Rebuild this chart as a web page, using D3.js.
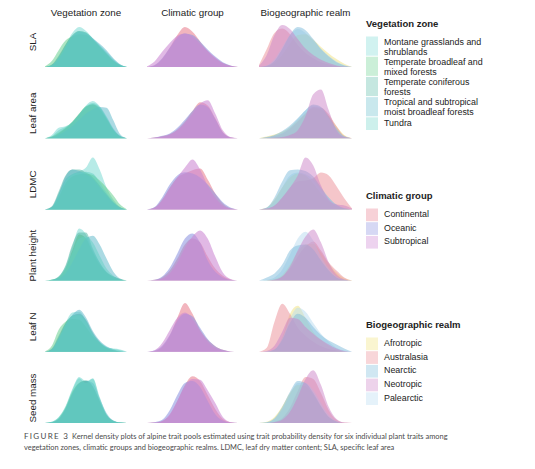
<!DOCTYPE html>
<html>
<head>
<meta charset="utf-8">
<script src="https://cdn.jsdelivr.net/npm/d3@7"></script>
<style>
  body { margin: 0; background: #fff; }
  svg text { font-family: "Liberation Sans", Arial, sans-serif; }
</style>
</head>
<body>
<div id="chart"></div>
<script>
// ---- chart data ----
var traits = ["SLA", "Leaf area", "LDMC", "Plant height", "Leaf N", "Seed mass"];
var groupings = ["Vegetation zone", "Climatic group", "Biogeographic realm"];

var vegZones = ["Montane grasslands and shrublands", "Temperate broadleaf and mixed forests",
  "Temperate coniferous forests", "Tropical and subtropical moist broadleaf forests", "Tundra"];
var climGroups = ["Continental", "Oceanic", "Subtropical"];
var bioRealms = ["Afrotropic", "Australasia", "Nearctic", "Neotropic", "Palearctic"];

// draw order for the realm layers (bottom -> top)
var bioOrder = ["Afrotropic", "Australasia", "Palearctic", "Nearctic", "Neotropic"];

// trait value grid (rescaled 0..12 across each panel)
var gridX = [0, 1, 2, 3, 4, 5, 6, 7, 8, 9, 10, 11, 12];

// densities, one row per group, same order as the group names
var slaVeg = [
  [0, 0.05, 0.25, 0.55, 0.85, 1.0, 0.9, 0.72, 0.55, 0.38, 0.2, 0.06, 0],
  [0.02, 0.15, 0.42, 0.66, 0.76, 0.82, 0.8, 0.68, 0.5, 0.32, 0.15, 0.04, 0],
  [0, 0.06, 0.28, 0.56, 0.8, 0.9, 0.86, 0.7, 0.52, 0.34, 0.16, 0.05, 0],
  [0, 0.04, 0.2, 0.48, 0.76, 0.88, 0.84, 0.72, 0.58, 0.42, 0.22, 0.07, 0],
  [0, 0.05, 0.24, 0.52, 0.78, 0.9, 0.86, 0.7, 0.53, 0.35, 0.17, 0.05, 0]
];
var slaClim = [
  [0, 0.04, 0.2, 0.48, 0.8, 1.0, 0.88, 0.64, 0.4, 0.22, 0.1, 0.03, 0],
  [0, 0.05, 0.22, 0.48, 0.74, 0.84, 0.8, 0.64, 0.44, 0.26, 0.12, 0.04, 0],
  [0.02, 0.14, 0.38, 0.6, 0.78, 0.84, 0.76, 0.58, 0.4, 0.24, 0.1, 0.03, 0]
];
var slaBio = [
  [0, 0.02, 0.1, 0.3, 0.58, 0.8, 0.82, 0.68, 0.5, 0.34, 0.2, 0.08, 0],
  [0.05, 0.45, 0.85, 0.96, 0.82, 0.55, 0.35, 0.22, 0.12, 0.06, 0.02, 0, 0],
  [0, 0.03, 0.15, 0.45, 0.8, 1.0, 0.92, 0.7, 0.45, 0.26, 0.12, 0.04, 0],
  [0.03, 0.3, 0.8, 1.05, 0.95, 0.7, 0.46, 0.3, 0.18, 0.1, 0.04, 0.01, 0],
  [0, 0.04, 0.2, 0.5, 0.8, 0.95, 0.85, 0.66, 0.45, 0.28, 0.14, 0.05, 0]
];
var leafAreaVeg = [
  [0, 0.08, 0.26, 0.3, 0.4, 0.6, 0.82, 0.93, 0.8, 0.55, 0.25, 0.06, 0],
  [0, 0.04, 0.14, 0.26, 0.42, 0.62, 0.8, 0.84, 0.72, 0.48, 0.2, 0.04, 0],
  [0, 0.03, 0.12, 0.24, 0.4, 0.6, 0.78, 0.85, 0.76, 0.5, 0.22, 0.05, 0],
  [0, 0.02, 0.08, 0.18, 0.3, 0.46, 0.62, 0.72, 0.78, 0.76, 0.45, 0.1, 0],
  [0, 0.05, 0.2, 0.28, 0.4, 0.6, 0.8, 0.88, 0.78, 0.52, 0.22, 0.05, 0]
];
var leafAreaClim = [
  [0, 0.02, 0.05, 0.1, 0.22, 0.42, 0.68, 0.9, 0.82, 0.5, 0.15, 0.02, 0],
  [0, 0.02, 0.06, 0.12, 0.26, 0.46, 0.68, 0.84, 0.78, 0.48, 0.14, 0.02, 0],
  [0, 0.01, 0.04, 0.09, 0.2, 0.38, 0.62, 0.86, 0.95, 0.62, 0.2, 0.03, 0]
];
var leafAreaBio = [
  [0, 0.04, 0.09, 0.16, 0.28, 0.45, 0.62, 0.75, 0.72, 0.55, 0.3, 0.08, 0],
  [0, 0.02, 0.06, 0.12, 0.24, 0.42, 0.62, 0.78, 0.76, 0.6, 0.3, 0.06, 0],
  [0, 0.03, 0.08, 0.18, 0.32, 0.5, 0.7, 0.84, 0.78, 0.55, 0.25, 0.05, 0],
  [0, 0, 0.01, 0.03, 0.08, 0.2, 0.55, 1.1, 1.22, 0.7, 0.2, 0.03, 0],
  [0, 0.02, 0.06, 0.14, 0.28, 0.48, 0.7, 0.82, 0.76, 0.5, 0.2, 0.04, 0]
];
var ldmcVeg = [
  [0, 0.06, 0.4, 0.75, 0.88, 0.95, 1.05, 1.3, 1.0, 0.55, 0.25, 0.06, 0],
  [0, 0.05, 0.3, 0.65, 0.82, 0.88, 0.9, 0.86, 0.72, 0.55, 0.35, 0.12, 0],
  [0, 0.08, 0.45, 0.85, 1.0, 1.0, 0.92, 0.8, 0.6, 0.38, 0.18, 0.05, 0],
  [0, 0.06, 0.38, 0.82, 1.0, 0.96, 0.88, 0.76, 0.55, 0.35, 0.16, 0.04, 0],
  [0, 0.05, 0.36, 0.72, 0.88, 0.92, 0.94, 0.9, 0.68, 0.42, 0.2, 0.05, 0]
];
var ldmcClim = [
  [0, 0.05, 0.25, 0.55, 0.8, 0.9, 0.98, 1.02, 0.75, 0.4, 0.15, 0.03, 0],
  [0, 0.06, 0.3, 0.62, 0.85, 0.93, 0.9, 0.8, 0.62, 0.4, 0.18, 0.05, 0],
  [0, 0.04, 0.22, 0.52, 0.8, 1.05, 1.25, 1.0, 0.6, 0.3, 0.1, 0.02, 0]
];
var ldmcBio = [
  [0, 0.04, 0.25, 0.55, 0.8, 0.9, 0.85, 0.65, 0.4, 0.2, 0.08, 0.02, 0],
  [0, 0.02, 0.1, 0.3, 0.55, 0.7, 0.72, 0.78, 0.92, 0.85, 0.58, 0.28, 0.02],
  [0, 0.05, 0.3, 0.7, 0.98, 1.0, 0.96, 0.82, 0.55, 0.3, 0.12, 0.03, 0],
  [0, 0.02, 0.1, 0.3, 0.55, 0.85, 1.3, 1.1, 0.6, 0.25, 0.12, 0.1, 0.02],
  [0, 0.04, 0.22, 0.55, 0.85, 0.92, 0.88, 0.75, 0.5, 0.28, 0.1, 0.03, 0]
];
var heightVeg = [
  [0, 0.02, 0.1, 0.35, 0.85, 1.3, 1.15, 0.75, 0.45, 0.2, 0.08, 0.02, 0],
  [0, 0.02, 0.08, 0.3, 0.75, 1.15, 1.05, 0.7, 0.4, 0.2, 0.1, 0.04, 0],
  [0, 0.02, 0.1, 0.38, 0.9, 1.2, 1.2, 0.8, 0.45, 0.22, 0.1, 0.03, 0],
  [0, 0.01, 0.05, 0.18, 0.45, 0.78, 1.05, 1.12, 0.9, 0.55, 0.22, 0.05, 0],
  [0, 0.02, 0.08, 0.3, 0.7, 1.05, 1.1, 0.95, 0.62, 0.3, 0.12, 0.03, 0]
];
var heightClim = [
  [0, 0.02, 0.08, 0.25, 0.55, 0.9, 1.05, 0.95, 0.6, 0.3, 0.12, 0.03, 0],
  [0, 0.02, 0.1, 0.32, 0.68, 1.05, 1.18, 0.95, 0.5, 0.22, 0.08, 0.02, 0],
  [0, 0.01, 0.05, 0.18, 0.45, 0.82, 1.1, 1.25, 1.05, 0.6, 0.2, 0.04, 0]
];
var heightBio = [
  [0, 0.01, 0.04, 0.14, 0.4, 0.72, 0.9, 0.92, 0.7, 0.42, 0.2, 0.06, 0.01],
  [0, 0, 0.02, 0.1, 0.3, 0.6, 0.85, 0.98, 0.75, 0.45, 0.25, 0.08, 0],
  [0, 0.08, 0.18, 0.4, 0.75, 0.88, 0.9, 0.78, 0.5, 0.25, 0.08, 0.02, 0],
  [0, 0, 0.02, 0.1, 0.35, 0.75, 1.1, 1.28, 0.95, 0.45, 0.15, 0.03, 0],
  [0, 0.02, 0.08, 0.28, 0.65, 1.05, 1.22, 1.0, 0.6, 0.3, 0.1, 0.02, 0]
];
var leafNVeg = [
  [0, 0.06, 0.35, 0.72, 0.98, 1.0, 0.78, 0.45, 0.25, 0.12, 0.08, 0.06, 0],
  [0.01, 0.15, 0.55, 0.75, 0.82, 0.8, 0.62, 0.38, 0.22, 0.1, 0.04, 0.01, 0],
  [0, 0.08, 0.4, 0.72, 0.9, 0.95, 0.8, 0.48, 0.24, 0.1, 0.04, 0.01, 0],
  [0, 0.06, 0.32, 0.66, 0.92, 1.05, 0.86, 0.52, 0.28, 0.14, 0.06, 0.02, 0],
  [0, 0.06, 0.34, 0.68, 0.9, 0.92, 0.75, 0.44, 0.24, 0.12, 0.07, 0.04, 0]
];
var leafNClim = [
  [0, 0.02, 0.12, 0.4, 0.85, 1.22, 0.95, 0.55, 0.3, 0.14, 0.05, 0.01, 0],
  [0, 0.03, 0.15, 0.42, 0.78, 0.95, 0.88, 0.6, 0.32, 0.14, 0.05, 0.01, 0],
  [0, 0.04, 0.22, 0.54, 0.85, 0.98, 0.82, 0.52, 0.26, 0.1, 0.03, 0.01, 0]
];
var leafNBio = [
  [0, 0, 0.05, 0.35, 0.95, 1.15, 0.85, 0.5, 0.3, 0.15, 0.05, 0.01, 0],
  [0, 0.1, 0.75, 1.2, 0.95, 0.6, 0.4, 0.25, 0.14, 0.07, 0.03, 0.01, 0],
  [0, 0.01, 0.06, 0.3, 0.72, 0.95, 0.85, 0.62, 0.42, 0.28, 0.18, 0.08, 0],
  [0, 0.02, 0.15, 0.5, 0.85, 0.82, 0.62, 0.45, 0.3, 0.18, 0.08, 0.02, 0],
  [0, 0.01, 0.06, 0.35, 0.82, 1.1, 1.0, 0.72, 0.45, 0.25, 0.1, 0.03, 0]
];
var seedVeg = [
  [0, 0.03, 0.15, 0.42, 0.85, 1.15, 1.05, 1.1, 0.6, 0.2, 0.05, 0.01, 0],
  [0, 0.02, 0.12, 0.38, 0.78, 1.0, 1.05, 0.9, 0.55, 0.2, 0.05, 0.01, 0],
  [0, 0.02, 0.1, 0.35, 0.75, 1.0, 1.07, 0.92, 0.55, 0.2, 0.05, 0.01, 0],
  [0, 0.02, 0.1, 0.35, 0.72, 0.98, 1.05, 1.0, 0.62, 0.25, 0.06, 0.01, 0],
  [0, 0.03, 0.14, 0.4, 0.82, 1.12, 1.0, 1.12, 0.65, 0.22, 0.06, 0.01, 0]
];
var seedClim = [
  [0, 0.01, 0.05, 0.2, 0.55, 0.95, 1.17, 1.05, 0.7, 0.35, 0.1, 0.02, 0],
  [0, 0.02, 0.08, 0.32, 0.7, 1.0, 1.05, 0.9, 0.55, 0.22, 0.06, 0.01, 0],
  [0, 0.01, 0.05, 0.22, 0.55, 0.92, 1.1, 1.08, 0.82, 0.5, 0.15, 0.02, 0]
];
var seedBio = [
  [0, 0.03, 0.15, 0.42, 0.75, 0.95, 0.92, 0.7, 0.4, 0.15, 0.04, 0, 0],
  [0, 0, 0.03, 0.12, 0.38, 0.8, 1.15, 1.1, 0.75, 0.32, 0.08, 0.01, 0],
  [0, 0.02, 0.12, 0.4, 0.78, 1.05, 1.0, 0.75, 0.42, 0.15, 0.04, 0, 0],
  [0, 0, 0.02, 0.08, 0.28, 0.65, 1.1, 1.32, 0.95, 0.4, 0.1, 0.01, 0],
  [0, 0.02, 0.1, 0.35, 0.72, 1.0, 1.0, 0.82, 0.5, 0.2, 0.05, 0, 0]
];

var captionLine1 = "Kernel density plots of alpine trait pools estimated using trait probability density for six individual plant traits among";
var captionLine2 = "vegetation zones, climatic groups and biogeographic realms. LDMC, leaf dry matter content; SLA, specific leaf area";

// ---- colours ----
var vegColors = ["#6fd8cf", "#5ccc86", "#4cb3a0", "#58b6c8", "#62d0c4"];
var climColors = ["#e8808f", "#8e94e0", "#cc86d2"];
var bioColors = ["#f0e27e", "#ec8e96", "#7ebcdc", "#cc84c8", "#b8dcf0"];

// <---- one table per grouping, built from the arrays above ---->
var panelData = {
  "SLA": [slaVeg, slaClim, slaBio],
  "Leaf area": [leafAreaVeg, leafAreaClim, leafAreaBio],
  "LDMC": [ldmcVeg, ldmcClim, ldmcBio],
  "Plant height": [heightVeg, heightClim, heightBio],
  "Leaf N": [leafNVeg, leafNClim, leafNBio],
  "Seed mass": [seedVeg, seedClim, seedBio]
};
var groupSpecs = [
  { names: vegZones, colors: vegColors, opacity: 0.5, swatch: 0.32, order: vegZones },
  { names: climGroups, colors: climColors, opacity: 0.58, swatch: 0.36, order: climGroups },
  { names: bioRealms, colors: bioColors, opacity: 0.5, swatch: 0.36, order: bioOrder }
];

var W = 535, H = 469;
var svg = d3.select("#chart").append("svg")
  .attr("width", W)
  .attr("height", H);

// panel placement
var colLeft = [45, 147, 259];
var colWidth = [82, 91, 93];
var rowY = d3.scaleLinear().domain([0, traits.length - 1]).range([67, 423]);
var densY = d3.scaleLinear().domain([0, 1]).range([0, 40]);

// column headers
svg.selectAll(".colhead")
  .data(groupings)
  .enter()
  .append("text")
  .attr("class", "colhead")
  .attr("x", function(d, i) { return colLeft[i] + colWidth[i] / 2; })
  .attr("y", 15.5)
  .attr("text-anchor", "middle")
  .attr("font-size", 9.8)
  .attr("fill", "#222")
  .text(function(d) { return d; });

// row labels
svg.selectAll(".rowlab")
  .data(traits)
  .enter()
  .append("text")
  .attr("class", "rowlab")
  .attr("transform", function(d, i) { return "translate(35.5," + (rowY(i) - 25) + ") rotate(-90)"; })
  .attr("text-anchor", "middle")
  .attr("font-size", 9.8)
  .attr("fill", "#222")
  .text(function(d) { return d; });

// density areas
traits.forEach(function(trait, r) {
  var base = rowY(r);
  groupSpecs.forEach(function(spec, c) {
    var x = d3.scaleLinear()
      .domain(d3.extent(gridX))
      .range([colLeft[c], colLeft[c] + colWidth[c]]);
    var area = d3.area()
      .curve(d3.curveMonotoneX)
      .x(function(d) { return x(d[0]); })
      .y0(base)
      .y1(function(d) { return base - densY(d[1]); });
    var series = spec.order.map(function(name) {
      var k = spec.names.indexOf(name);
      return {
        color: spec.colors[k],
        pts: gridX.map(function(g, j) { return [g, panelData[trait][c][k][j]]; })
      };
    });
    svg.append("g")
      .selectAll("path")
      .data(series)
      .enter()
      .append("path")
      .attr("d", function(d) { return area(d.pts); })
      .attr("fill", function(d) { return d.color; })
      .attr("fill-opacity", spec.opacity)
      .attr("stroke", "none");
  });
});

// <---- legends ---->
var legendX = 366;
var legendTitles = [
  { title: "Vegetation zone", y: 27 },
  { title: "Climatic group", y: 199 },
  { title: "Biogeographic realm", y: 328 }
];
var itemFont = 8.9;

function wrapWords(text, maxW, fontSize) {
  var probe = svg.append("text").attr("font-size", fontSize);
  var words = text.split(" "), lines = [], cur = "";
  words.forEach(function(w) {
    var test = cur ? cur + " " + w : w;
    probe.text(test);
    if (probe.node().getComputedTextLength() > maxW && cur) {
      lines.push(cur);
      cur = w;
    } else {
      cur = test;
    }
  });
  lines.push(cur);
  probe.remove();
  return lines;
}

legendTitles.forEach(function(lt, c) {
  var spec = groupSpecs[c];
  var g = svg.append("g");
  g.append("text")
    .attr("x", legendX)
    .attr("y", lt.y)
    .attr("font-size", 9.5)
    .attr("font-weight", "bold")
    .attr("fill", "#222")
    .text(lt.title);
  var top = lt.y + 9.5;
  spec.names.forEach(function(name, k) {
    var lines = wrapWords(name, 100, itemFont);
    var itemH = lines.length > 1 ? 20.2 : 13.7;
    g.append("rect")
      .attr("x", legendX)
      .attr("y", top)
      .attr("width", 12)
      .attr("height", itemH - 1)
      .attr("fill", spec.colors[k])
      .attr("fill-opacity", spec.swatch);
    var t = g.append("text")
      .attr("x", legendX + 18)
      .attr("y", top + 8.3)
      .attr("font-size", itemFont)
      .attr("fill", "#222");
    lines.forEach(function(line, li) {
      t.append("tspan")
        .attr("x", legendX + 18)
        .attr("dy", li === 0 ? 0 : 10)
        .text(line);
    });
    top += itemH;
  });
});

// <---- caption ---->
var cap = svg.append("g").attr("fill", "#4a4a4a");
cap.append("text")
  .attr("x", 24)
  .attr("y", 439)
  .attr("font-size", 8)
  .attr("letter-spacing", 1.3)
  .style("font-family", "Lato, 'Open Sans', sans-serif")
  .text("FIGURE 3");
cap.append("text")
  .attr("x", 72)
  .attr("y", 439)
  .attr("font-size", 7.45)
  .style("font-family", "Lato, 'Open Sans', sans-serif")
  .text(captionLine1);
cap.append("text")
  .attr("x", 24)
  .attr("y", 449.5)
  .attr("font-size", 7.45)
  .style("font-family", "Lato, 'Open Sans', sans-serif")
  .text(captionLine2);
</script>
</body>
</html>
